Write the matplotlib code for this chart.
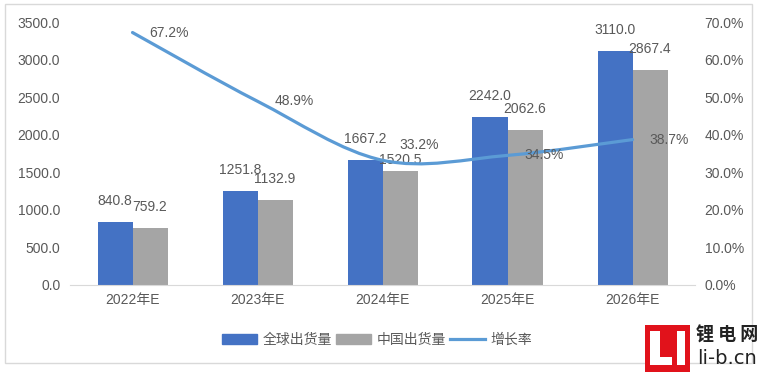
import matplotlib
matplotlib.use("Agg")
import matplotlib.pyplot as plt
import numpy as np
from matplotlib.patches import Patch, Rectangle, PathPatch
from matplotlib.lines import Line2D
from matplotlib.path import Path

plt.rcParams['font.family'] = ['Liberation Sans', 'Noto Sans CJK SC']

# data
years = ['2022年E', '2023年E', '2024年E', '2025年E', '2026年E']
global_ship = [840.8, 1251.8, 1667.2, 2242.0, 3110.0]
china_ship = [759.2, 1132.9, 1520.5, 2062.6, 2867.4]
growth = [67.2, 48.9, 33.2, 34.5, 38.7]

BLUE = '#4472C4'
GRAY = '#A5A5A5'
LINE = '#5B9BD5'
TXT = '#595959'

W, H = 761, 372
fig = plt.figure(figsize=(W / 100, H / 100), dpi=100)


def fx(px):
    return px / W


def fy(py):
    return 1 - py / H


# outer frame
fig.patches.append(Rectangle((fx(5), fy(363)), fx(752) - fx(5), fy(4) - fy(363),
                             transform=fig.transFigure, fill=False,
                             edgecolor='#D9D9D9', lw=1))

ax = fig.add_axes([fx(70), fy(285), fx(695) - fx(70), fy(22) - fy(285)])
x = np.arange(len(years))
bw = 0.28
b1 = ax.bar(x - bw / 2, global_ship, bw, color=BLUE)
b2 = ax.bar(x + bw / 2, china_ship, bw, color=GRAY)

# label offsets above bars (points); the 2024 China label sits closer in the original
for k, bars in enumerate((b1, b2)):
    for i, r in enumerate(bars):
        dy = 3 if (k == 1 and i == 2) else 10
        ax.annotate('%.1f' % r.get_height(), (r.get_x() + r.get_width() / 2, r.get_height()),
                    xytext=(0, dy), textcoords='offset points', ha='center', va='bottom',
                    fontsize=10, color=TXT)

ax.set_xlim(-0.5, len(years) - 0.5)
ax.set_ylim(0, 3500)
ax.set_yticks(np.arange(0, 3501, 500))
ax.set_yticklabels(['%.1f' % v for v in np.arange(0, 3501, 500)])
ax.set_xticks(x)
ax.set_xticklabels(years)
ax.tick_params(length=0, labelsize=10, labelcolor=TXT)
ax.tick_params(axis='y', pad=7)
ax.tick_params(axis='x', pad=6)
for s in ['top', 'left', 'right']:
    ax.spines[s].set_visible(False)
ax.spines['bottom'].set_color('#D9D9D9')

ax2 = ax.twinx()
ax2.set_ylim(0, 70)
ax2.set_yticks(np.arange(0, 71, 10))
ax2.set_yticklabels(['%.1f%%' % v for v in np.arange(0, 71, 10)])
ax2.tick_params(length=0, labelsize=10, labelcolor=TXT, pad=7)
for s in ax2.spines.values():
    s.set_visible(False)

# smoothed line (Catmull-Rom as bezier segments through the data points)
pts = np.column_stack([x, growth]).astype(float)
ext = np.vstack([pts[0], pts, pts[-1]])
verts = [tuple(pts[0])]
codes = [Path.MOVETO]
for i in range(1, len(ext) - 2):
    p0, p1, p2, p3 = ext[i - 1], ext[i], ext[i + 1], ext[i + 2]
    c1 = p1 + (p2 - p0) / 6
    c2 = p2 - (p3 - p1) / 6
    verts += [tuple(c1), tuple(c2), tuple(p2)]
    codes += [Path.CURVE4] * 3
ax2.add_patch(PathPatch(Path(verts, codes), fill=False, edgecolor=LINE, lw=2.3,
                        capstyle='round'))

lift = {2: 11}
for i, g in enumerate(growth):
    ax2.annotate('%.1f%%' % g, (x[i], g), xytext=(12, lift.get(i, 0)),
                 textcoords='offset points', ha='left', va='center',
                 fontsize=10, color=TXT)

handles = [Patch(color=BLUE), Patch(color=GRAY), Line2D([], [], color=LINE, lw=2.3)]
fig.legend(handles, ['全球出货量', '中国出货量', '增长率'], loc='center',
           bbox_to_anchor=(fx(377), fy(340)), ncol=3, frameon=False,
           fontsize=10, labelcolor=TXT, handlelength=2.5, handleheight=0.8,
           columnspacing=0.3, handletextpad=0.4)

# logo
fig.patches.append(Rectangle((fx(645), fy(372)), fx(690) - fx(645), fy(325) - fy(372),
                             transform=fig.transFigure, color='#E1121B', lw=0))
for (x0, y0, x1, y1) in [(650, 331, 660, 365), (650, 357, 672, 365), (677, 331, 685, 365)]:
    fig.patches.append(Rectangle((fx(x0), fy(y1)), fx(x1) - fx(x0), fy(y0) - fy(y1),
                                 transform=fig.transFigure, color='white', lw=0))
fig.text(fx(727), fy(335), '锂 电 网', ha='center', va='center', fontsize=13,
         fontweight='bold', family=['Noto Sans CJK SC'], color='#222222')
fig.text(fx(727), fy(359), 'li-b.cn', ha='center', va='center', fontsize=14,
         family=['DejaVu Sans'], color='#222222')

fig.savefig('out.png', dpi=100)
